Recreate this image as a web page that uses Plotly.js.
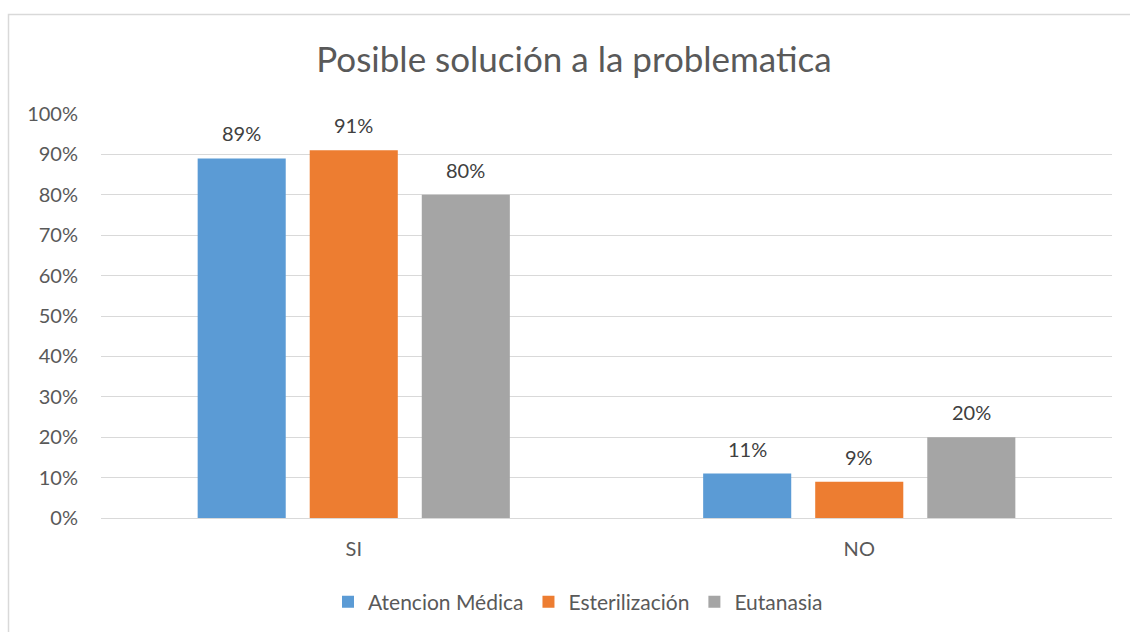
<!DOCTYPE html>
<html>
<head>
<meta charset="utf-8">
<script src="https://cdn.plot.ly/plotly-3.0.1.min.js"></script>
<style>
html,body{margin:0;padding:0;background:#fff;}
#chart{width:1130px;height:632px;}
</style>
</head>
<body>
<div id="chart"></div>
<script>
const categories = ["SI", "NO"];
const seriesNames = ["Atencion Médica", "Esterilización", "Eutanasia"];
const atencionMedica = [0.89, 0.11];
const esterilizacion = [0.91, 0.09];
const eutanasia = [0.80, 0.20];
const seriesValues = [atencionMedica, esterilizacion, eutanasia];
const colors = ["#5B9BD5", "#ED7D31", "#A5A5A5"];
const tickVals = [0, 0.1, 0.2, 0.3, 0.4, 0.5, 0.6, 0.7, 0.8, 0.9, 1.0];
const tickText = ["0%", "10%", "20%", "30%", "40%", "50%", "60%", "70%", "80%", "90%", "100%"];

const FONT = "Lato, 'Open Sans', sans-serif";
const traces = seriesValues.map((vals, i) => ({
  type: "bar",
  name: seriesNames[i],
  x: categories,
  y: vals,
  marker: {color: colors[i]},
  hoverinfo: "skip"
}));

// data labels as annotations, shifted to each bar slot
const slotPx = 112;
const annotations = [];
seriesValues.forEach((vals, i) => {
  vals.forEach((v, j) => {
    annotations.push({
      x: categories[j], y: v, xref: "x", yref: "y",
      text: Math.round(v * 100) + "%",
      showarrow: false, yanchor: "bottom",
      xshift: (i - 1) * slotPx, yshift: 11,
      font: {family: FONT, size: 20, color: "#404040"}
    });
  });
});

const layout = {
  width: 1130, height: 632,
  margin: {l: 101, r: 18, t: 114, b: 114, autoexpand: false},
  paper_bgcolor: "#fff", plot_bgcolor: "#fff",
  barmode: "group",
  bargap: 0.335,
  bargroupgap: 0.214,
  title: {
    text: "Posible solución a la problematica",
    font: {family: FONT, size: 35, color: "#595959"},
    x: (574 - 101) / 1011, xref: "paper", xanchor: "center",
    y: 0.905, yanchor: "middle"
  },
  xaxis: {
    type: "category",
    showgrid: false, zeroline: false,
    showline: false,
    ticks: "", ticklabelstandoff: 17,
    tickfont: {family: FONT, size: 20, color: "#595959"},
    fixedrange: true
  },
  yaxis: {
    range: [0, 1.0],
    tickvals: tickVals, ticktext: tickText,
    showgrid: true, gridcolor: "#d9d9d9", gridwidth: 1,
    zeroline: true, zerolinecolor: "#d9d9d9", zerolinewidth: 1,
    showline: false, ticks: "",
    ticklabelstandoff: 22,
    tickfont: {family: FONT, size: 20, color: "#595959"},
    fixedrange: true
  },
  showlegend: true,
  legend: {
    orientation: "h",
    x: (578 - 101) / 1011, xanchor: "center",
    y: -0.208, yanchor: "middle",
    font: {family: FONT, size: 21, color: "#595959"},
    itemwidth: 30,
    traceorder: "normal"
  },
  annotations: annotations,
  shapes: [{
    type: "rect", xref: "paper", yref: "paper", layer: "below",
    x0: (8.5 - 101) / 1011, x1: (1140 - 101) / 1011,
    y0: (518 - 640) / 404, y1: (518 - 14.5) / 404,
    line: {color: "#d9d9d9", width: 1.5}, fillcolor: "rgba(0,0,0,0)"
  }]
};

Plotly.newPlot("chart", traces, layout, {displayModeBar: false, staticPlot: true});
</script>
</body>
</html>
